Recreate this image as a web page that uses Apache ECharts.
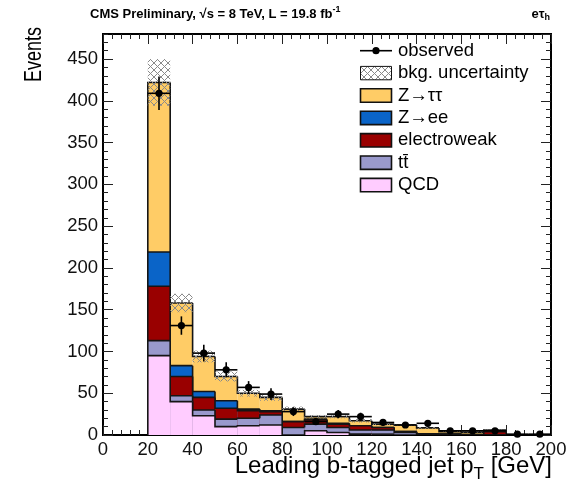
<!DOCTYPE html>
<html>
<head>
<meta charset="utf-8">
<script src="https://cdn.jsdelivr.net/npm/echarts@6/dist/echarts.min.js"></script>
<style>
  html, body { margin: 0; padding: 0; background: #fff; }
  #chart { width: 583px; height: 484px; }
</style>
</head>
<body>
<div id="chart"></div>
<script>
// Leading b-tagged jet pT, e-tau_h channel: stacked backgrounds, uncertainty band, observed data.
const binLow = [20, 30, 40, 50, 60, 70, 80, 90, 100, 110, 120, 130, 140, 150, 160, 170, 180, 190];
const binWidth = 10;

const qcd   = [95, 40, 23, 10, 11, 12, 0, 5, 3, 1, 1, 0, 0, 0, 0, 0, 0, 0];
const ttbar = [18, 7, 7, 9, 9, 12, 9, 8, 6, 5, 5, 3, 0.5, 0.5, 0, 0, 0, 0];
const ewk   = [65, 23, 15, 13, 9, 4, 7, 5, 4, 5, 3, 1, 1, 0.5, 0.5, 4, 0, 0];
const zee   = [41, 13, 7, 9, 2, 1, 0, 1, 1, 0, 0, 0, 0, 0, 0, 0, 0, 0];
const ztt   = [203, 75, 42, 29, 19, 16, 15, 3, 8, 6, 4, 8, 7, 3, 3, 2, 0, 0];
const bkgUnc = [28, 11, 7, 6, 4, 4, 3, 2, 2, 2, 1.5, 1, 1, 0.5, 0.5, 0.5, 0, 0];

const observed    = [409, 131, 98, 78, 57, 49, 28, 16, 25, 22, 15, 12, 14, 5, 5, 5, 1, 1];
const observedErr = [20, 11, 10, 9, 7.5, 7, 5.3, 4, 5, 4.7, 3.9, 3.5, 3.7, 2.2, 2.2, 2.2, 1, 1];

const yTicks = { min: 0, max: 480, major: 50, minor: 10 };
const xTicks = { min: 0, max: 200, major: 20, minor: 4 };

const colors = {
  ztt: '#FFCC66', zee: '#0A64C8', ewk: '#990000', ttbar: '#9999CC', qcd: '#FFCCFF'
};

// cumulative stack levels, bottom to top
const components = [qcd, ttbar, ewk, zee, ztt];
const cumLevels = [];
components.forEach((arr, k) => {
  cumLevels.push(arr.map((v, i) => v + (k > 0 ? cumLevels[k - 1][i] : 0)));
});
const total = cumLevels[cumLevels.length - 1];

// cross-hatch pattern for the uncertainty band
const hatch = document.createElement('canvas');
hatch.width = 7; hatch.height = 7;
(function () {
  const g = hatch.getContext('2d');
  g.strokeStyle = '#8a8a8a';
  g.lineWidth = 1;
  g.beginPath();
  g.moveTo(0, 0); g.lineTo(7, 7);
  g.moveTo(7, 0); g.lineTo(0, 7);
  g.stroke();
})();
const hatchFill = { image: hatch, repeat: 'repeat' };

function stackSeries(cum, color, name) {
  return {
    type: 'custom', name: name, xAxisIndex: 0, yAxisIndex: 0,
    data: binLow.map((lo, i) => [lo, lo + binWidth, cum[i]]),
    renderItem: function (params, api) {
      const i = params.dataIndex;
      const lo = api.value(0), hi = api.value(1), top = api.value(2);
      const base = api.coord([lo, 0]);
      const tr = api.coord([hi, top]);
      const prev = api.coord([lo, i > 0 ? cum[i - 1] : 0]);
      const children = [];
      if (top > 0) {
        children.push({
          type: 'rect',
          shape: { x: base[0], y: tr[1], width: tr[0] - base[0], height: base[1] - tr[1] },
          style: { fill: color }
        });
      }
      const pts = [[base[0], prev[1]], [base[0], tr[1]], [tr[0], tr[1]]];
      if (i === binLow.length - 1) pts.push([tr[0], base[1]]);
      children.push({
        type: 'polyline', shape: { points: pts },
        style: { stroke: '#151515', lineWidth: 1.6, fill: null }
      });
      return { type: 'group', children: children };
    },
    clip: true, silent: true
  };
}

const uncSeries = {
  type: 'custom', name: 'bkg. uncertainty', xAxisIndex: 0, yAxisIndex: 0,
  data: binLow.map((lo, i) => [lo, lo + binWidth, total[i] - bkgUnc[i], total[i] + bkgUnc[i]]),
  renderItem: function (params, api) {
    if (api.value(3) - api.value(2) <= 0) return null;
    const a = api.coord([api.value(0), api.value(3)]);
    const b = api.coord([api.value(1), api.value(2)]);
    return {
      type: 'rect',
      shape: { x: a[0], y: a[1], width: b[0] - a[0], height: b[1] - a[1] },
      style: { fill: hatchFill }
    };
  },
  clip: true, silent: true
};

const obsSeries = {
  type: 'custom', name: 'observed', xAxisIndex: 0, yAxisIndex: 0,
  data: binLow.map((lo, i) => [lo, lo + binWidth, observed[i], observedErr[i]]),
  renderItem: function (params, api) {
    const lo = api.value(0), hi = api.value(1), v = api.value(2), e = api.value(3);
    const mid = (lo + hi) / 2;
    const c = api.coord([mid, v]);
    const l = api.coord([lo, v]);
    const r = api.coord([hi, v]);
    const up = api.coord([mid, v + e]);
    const dn = api.coord([mid, Math.max(v - e, 0)]);
    const st = { stroke: '#000', lineWidth: 1.6 };
    return {
      type: 'group',
      children: [
        { type: 'line', shape: { x1: l[0], y1: l[1], x2: r[0], y2: r[1] }, style: st },
        { type: 'line', shape: { x1: up[0], y1: up[1], x2: dn[0], y2: dn[1] }, style: st },
        { type: 'circle', shape: { cx: c[0], cy: c[1], r: 3.6 }, style: { fill: '#000' } }
      ]
    };
  },
  clip: false, silent: true
};

const FONT = '"Liberation Sans", Arial, Helvetica, sans-serif';
const axisLineStyle = { color: '#000', width: 2 };

function xAxisDef(position, interval, tickLen, showLabel) {
  return {
    type: 'value', position: position, min: xTicks.min, max: xTicks.max, interval: interval,
    axisLine: { show: true, onZero: false, lineStyle: axisLineStyle },
    axisTick: { show: true, inside: true, length: tickLen, lineStyle: { color: '#222', width: 1 } },
    axisLabel: { show: showLabel, color: '#111', fontFamily: FONT, fontSize: 18.5, margin: 5 },
    splitLine: { show: false }
  };
}
function yAxisDef(position, interval, tickLen, showLabel) {
  return {
    type: 'value', position: position, min: yTicks.min, max: yTicks.max, interval: interval,
    axisLine: { show: true, onZero: false, lineStyle: axisLineStyle },
    axisTick: { show: true, inside: true, length: tickLen, lineStyle: { color: '#222', width: 1 } },
    axisLabel: { show: showLabel, showMaxLabel: false, color: '#111', fontFamily: FONT, fontSize: 18.5, margin: 5 },
    splitLine: { show: false }
  };
}

// legend drawn as graphic rows
const legendRows = [
  { label: 'observed', kind: 'obs' },
  { label: 'bkg. uncertainty', kind: 'hatch' },
  { label: 'Z\u2192\u03C4\u03C4', kind: 'box', color: colors.ztt },
  { label: 'Z\u2192ee', kind: 'box', color: colors.zee },
  { label: 'electroweak', kind: 'box', color: colors.ewk },
  { label: 'tt\u0304', kind: 'box', color: colors.ttbar },
  { label: 'QCD', kind: 'box', color: colors.qcd }
];
const legendGraphics = [];
legendRows.forEach((row, i) => {
  const y = 50.7 + i * 22.4;
  if (row.kind === 'obs') {
    legendGraphics.push({ type: 'line', shape: { x1: 360, y1: y, x2: 392, y2: y }, style: { stroke: '#000', lineWidth: 1.6 } });
    legendGraphics.push({ type: 'circle', shape: { cx: 376, cy: y, r: 3.6 }, style: { fill: '#000' } });
  } else {
    legendGraphics.push({
      type: 'rect', shape: { x: 360.5, y: y - 6.7, width: 31, height: 13.4 },
      style: { fill: row.kind === 'hatch' ? hatchFill : row.color, stroke: '#111', lineWidth: row.kind === 'hatch' ? 1 : 1.6 }
    });
  }
  legendGraphics.push({
    type: 'text', x: 398, y: y,
    style: { text: row.label, fill: '#000', font: '18.5px ' + FONT, textVerticalAlign: 'middle', textAlign: 'left' }
  });
});

const chart = echarts.init(document.getElementById('chart'), null, { renderer: 'canvas' });
chart.setOption({
  animation: false,
  backgroundColor: '#fff',
  grid: { left: 103, right: 32, top: 34, bottom: 49, containLabel: false },
  xAxis: [
    xAxisDef('bottom', xTicks.major, 10, true),
    xAxisDef('bottom', xTicks.minor, 5, false),
    xAxisDef('top', xTicks.major, 10, false),
    xAxisDef('top', xTicks.minor, 5, false)
  ],
  yAxis: [
    yAxisDef('left', yTicks.major, 10, true),
    yAxisDef('left', yTicks.minor, 5, false),
    yAxisDef('right', yTicks.major, 10, false),
    yAxisDef('right', yTicks.minor, 5, false)
  ],
  series: [
    stackSeries(cumLevels[4], colors.ztt, 'Z\u2192\u03C4\u03C4'),
    stackSeries(cumLevels[3], colors.zee, 'Z\u2192ee'),
    stackSeries(cumLevels[2], colors.ewk, 'electroweak'),
    stackSeries(cumLevels[1], colors.ttbar, 'tt\u0304'),
    stackSeries(cumLevels[0], colors.qcd, 'QCD'),
    uncSeries,
    obsSeries
  ],
  graphic: [
    {
      type: 'text', x: 90, y: 14,
      style: {
        text: 'CMS Preliminary, \u221As = 8 TeV, L = 19.8 fb{sup|-1}',
        font: 'bold 13px ' + FONT, fill: '#000', textVerticalAlign: 'middle',
        rich: { sup: { font: 'bold 9px ' + FONT, verticalAlign: 'top', padding: [0, 0, 8, 0] } }
      }
    },
    {
      type: 'text', x: 550, y: 14,
      style: {
        text: 'e\u03C4{sub|h}', font: 'bold 13px ' + FONT, fill: '#000',
        textAlign: 'right', textVerticalAlign: 'middle',
        rich: { sub: { font: 'bold 9px ' + FONT, padding: [8, 0, 0, 0] } }
      }
    },
    {
      type: 'text', x: 34, y: 27, rotation: Math.PI / 2, scaleX: 0.75,
      style: { text: 'Events', font: '24px ' + FONT, fill: '#000', textAlign: 'right', textVerticalAlign: 'middle' }
    },
    {
      type: 'text', x: 552, y: 466,
      style: {
        text: 'Leading b-tagged jet p{sub|T} [GeV]', font: '24px ' + FONT, fill: '#000',
        textAlign: 'right', textVerticalAlign: 'middle',
        rich: { sub: { font: '17px ' + FONT, padding: [16, 0, 0, 0] } }
      }
    }
  ].concat(legendGraphics)
});
</script>
</body>
</html>
